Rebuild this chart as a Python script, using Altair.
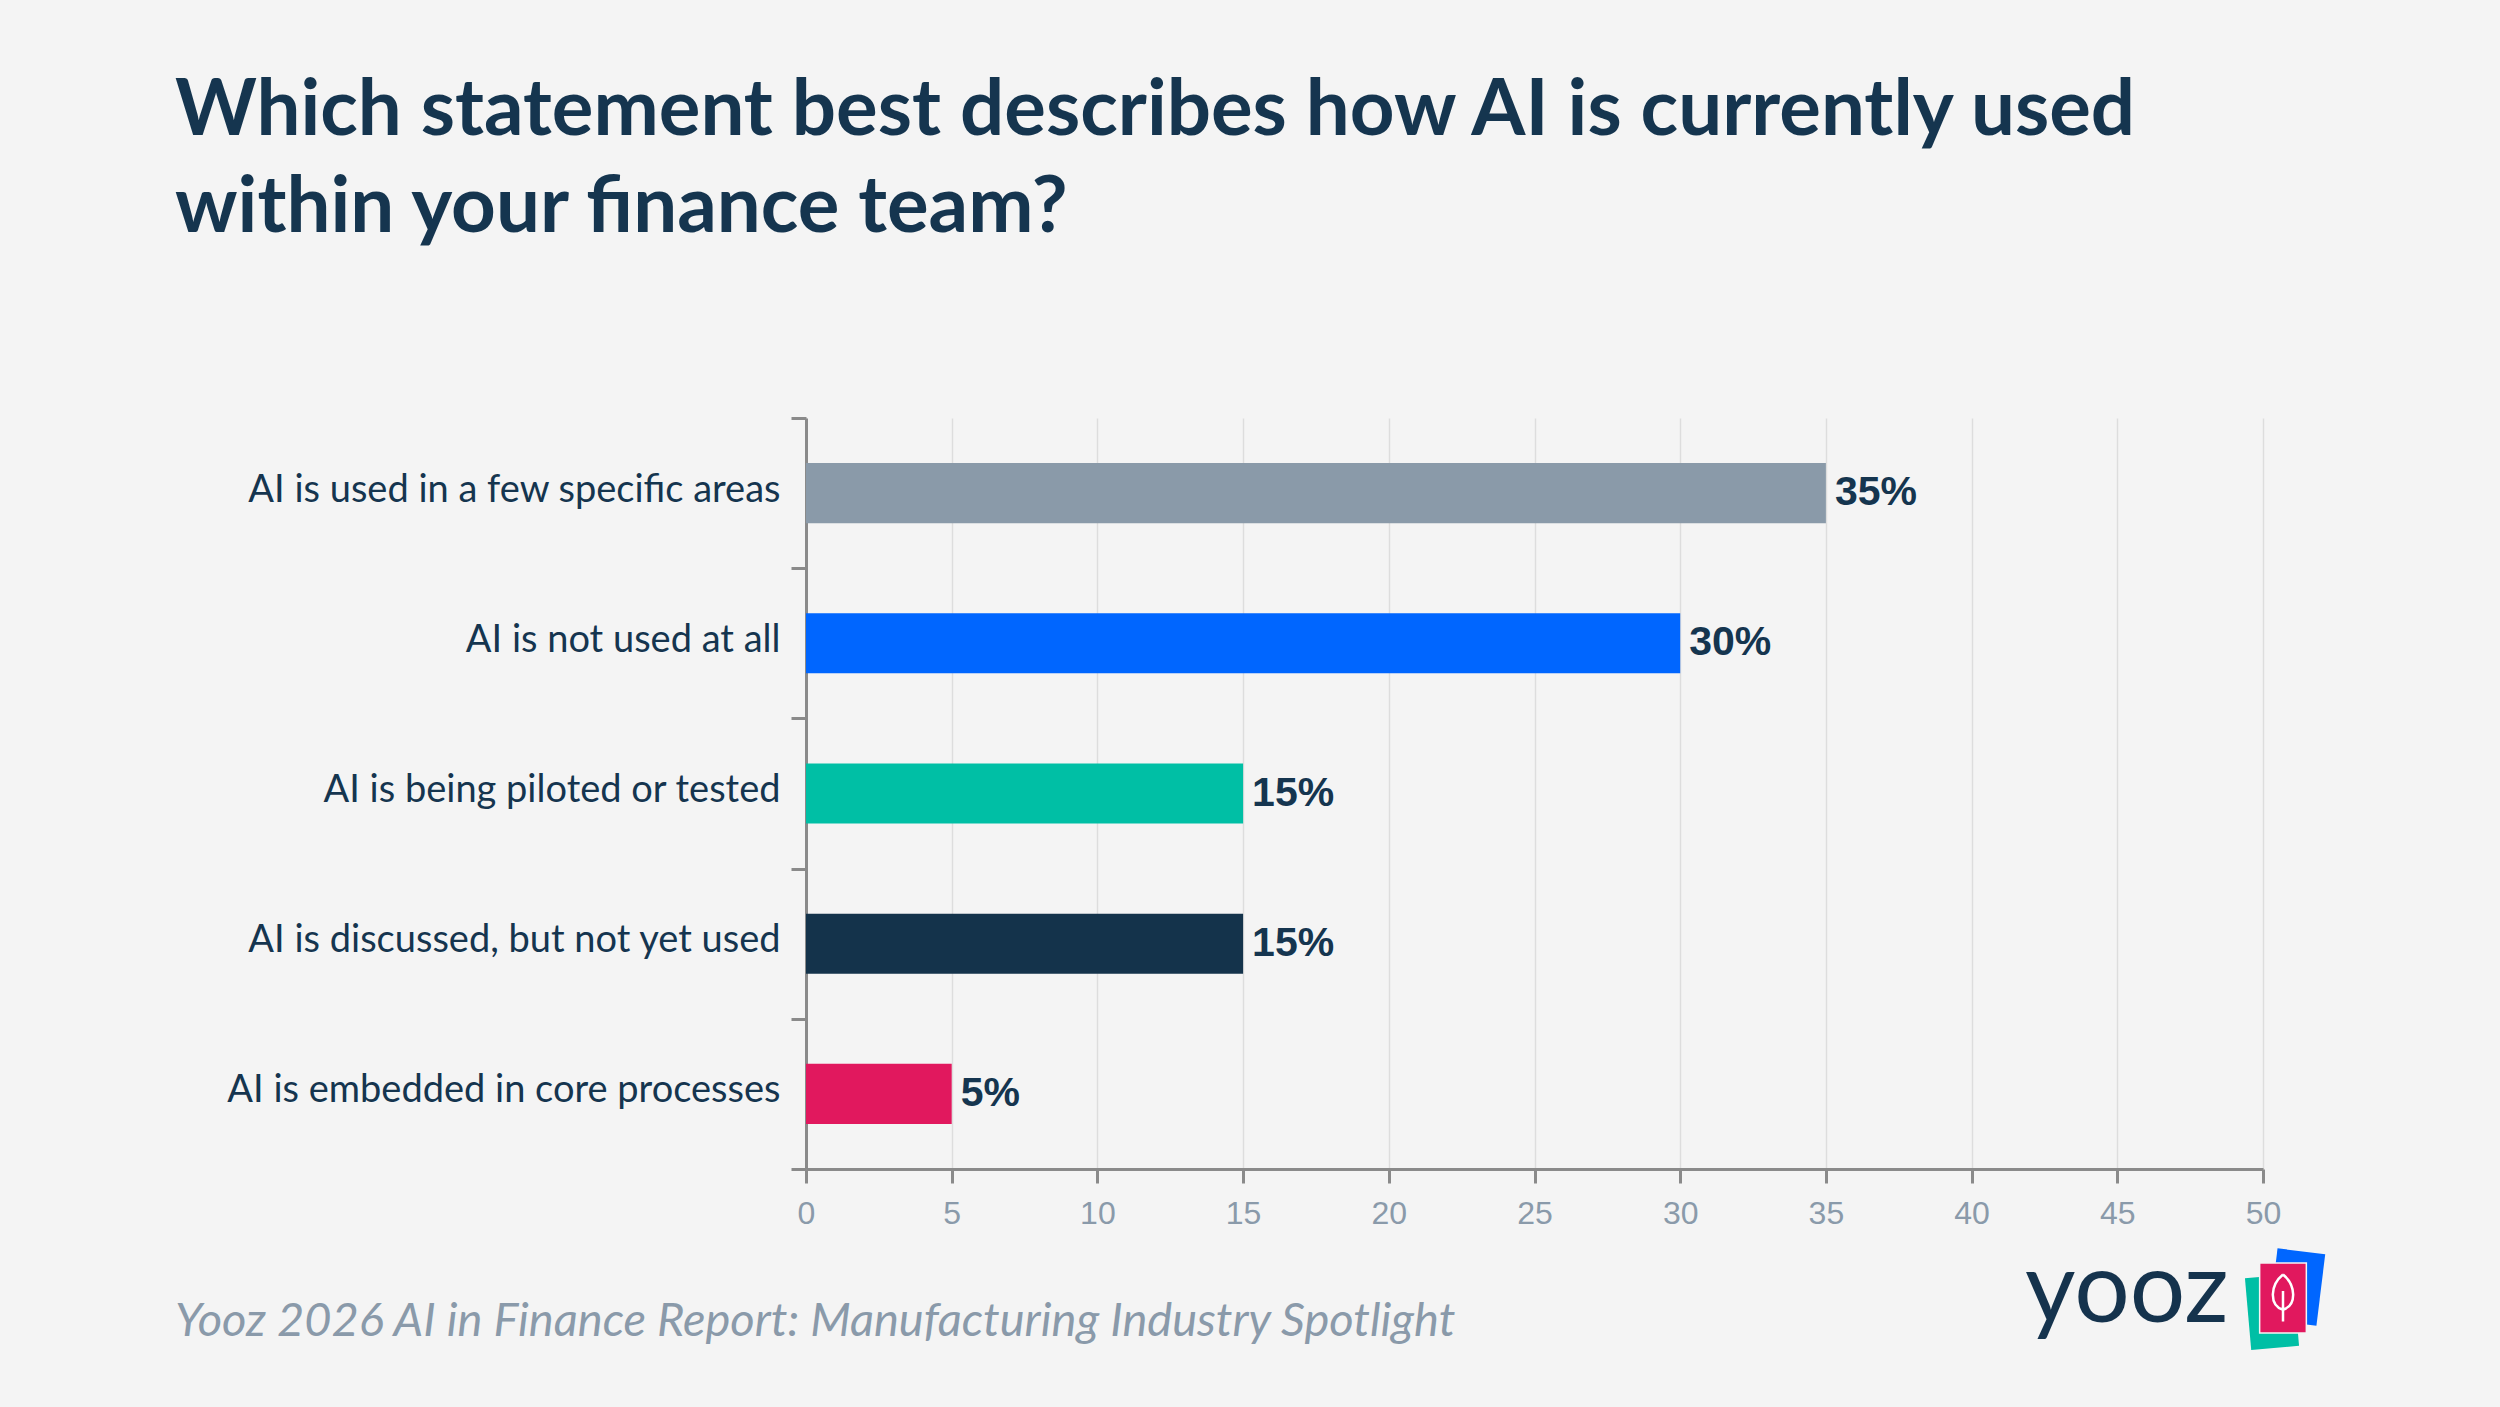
import altair as alt
import pandas as pd

# ---- data ----
CATEGORIES = [
    "AI is used in a few specific areas",
    "AI is not used at all",
    "AI is being piloted or tested",
    "AI is discussed, but not yet used",
    "AI is embedded in core processes",
]
VALUES = [35, 30, 15, 15, 5]
COLORS = ["#8A9AA9", "#0066FF", "#00BFA5", "#14334B", "#E1185E"]
X_TICKS = [0, 5, 10, 15, 20, 25, 30, 35, 40, 45, 50]

TITLE_LINES = [
    "Which statement best describes how AI is currently used",
    "within your finance team?",
]
FOOTER = "Yooz 2026 AI in Finance Report: Manufacturing Industry Spotlight"
LOGO_TEXT = "yooz"

NAVY = "#15354F"
GREY_TXT = "#8A9AAA"
AXIS_GREY = "#8A8A8A"
BG = "#F4F4F4"

df = pd.DataFrame({"category": CATEGORIES, "value": VALUES})

W, H = 1457, 751
PAD = {"left": 806, "top": 418, "right": 2500 - 806 - W, "bottom": 1407 - 418 - H}

y_enc = alt.Y(
    "category:N",
    sort=CATEGORIES,
    scale=alt.Scale(paddingInner=0, paddingOuter=0),
    axis=alt.Axis(
        title=None,
        tickBand="extent",
        grid=False,
        ticks=True,
        tickSize=15,
        tickWidth=3,
        tickColor=AXIS_GREY,
        domainColor=AXIS_GREY,
        domainWidth=3,
        labelFont="Lato",
        labelFontSize=38,
        labelColor=NAVY,
        labelPadding=11,
        labelOffset=-3,
        labelLimit=0,
    ),
)

x_enc = alt.X(
    "value:Q",
    scale=alt.Scale(domain=[0, 50], nice=False),
    axis=alt.Axis(
        title=None,
        values=X_TICKS,
        grid=True,
        gridColor="#DDDDDD",
        gridWidth=1.5,
        tickSize=14,
        tickWidth=3,
        tickColor=AXIS_GREY,
        domainColor=AXIS_GREY,
        domainWidth=3,
        labelFont="Liberation Sans",
        labelFontSize=32,
        labelColor=GREY_TXT,
        labelPadding=15,
        labelFlush=False,
    ),
)

base = alt.Chart(df)

bars = base.mark_bar(height={"band": 0.4}).encode(
    y=y_enc,
    x=x_enc,
    color=alt.Color(
        "category:N",
        scale=alt.Scale(domain=CATEGORIES, range=COLORS),
        legend=None,
    ),
)

labels = base.transform_calculate(
    label="datum.value + '%'"
).mark_text(
    align="left",
    baseline="middle",
    dx=9,
    font="Liberation Sans",
    fontWeight="bold",
    fontSize=41,
    color=NAVY,
).encode(
    y=alt.Y("category:N", sort=CATEGORIES),
    x=alt.X("value:Q"),
    text="label:N",
)

one = alt.Data(values=[{"k": 1}])

title = alt.Chart(one).mark_text(
    align="left",
    baseline="alphabetic",
    font="Lato",
    fontWeight="bold",
    fontSize=78,
    lineHeight=97,
    color=NAVY,
).encode(x=alt.value(-631), y=alt.value(-283), text=alt.value(TITLE_LINES))

footer = alt.Chart(one).mark_text(
    align="left",
    baseline="alphabetic",
    font="Lato",
    fontStyle="italic",
    fontSize=47,
    color=GREY_TXT,
).encode(x=alt.value(-631), y=alt.value(918), text=alt.value(FOOTER))

logo_text = alt.Chart(one).mark_text(
    align="left",
    baseline="alphabetic",
    font="Lato",
    fontSize=98,
    color="#15334D",
).encode(x=alt.value(1219), y=alt.value(904), text=alt.value(LOGO_TEXT))

RECT_PATH = "M-0.667,-1 L0.667,-1 L0.667,1 L-0.667,1 Z"
LEAF_PATH = "M0,-1 C0.55,-0.55 0.6,0.3 0,0.5 C-0.6,0.3 -0.55,-0.55 0,-1 M0,-0.3 L0,1"

card_blue = alt.Chart(one).mark_point(
    shape=RECT_PATH, filled=True, size=5184, angle=7, color="#0066FF", opacity=1
).encode(x=alt.value(1491), y=alt.value(869))

card_teal = alt.Chart(one).mark_point(
    shape=RECT_PATH, filled=True, size=5184, angle=355, color="#00BFA5", opacity=1
).encode(x=alt.value(1466), y=alt.value(894))

card_pink = alt.Chart(one).mark_point(
    shape=RECT_PATH, filled=True, size=4900, color="#E1185E", opacity=1,
    stroke="#F4F4F4", strokeWidth=1.5,
).encode(x=alt.value(1477), y=alt.value(880))

leaf = alt.Chart(one).mark_point(
    shape=LEAF_PATH, filled=False, size=2209, stroke="white", strokeWidth=2.5, opacity=1
).encode(x=alt.value(1477), y=alt.value(880))

chart = alt.layer(
    bars, labels, title, footer, logo_text, card_blue, card_teal, card_pink, leaf
).properties(
    width=W,
    height=H,
    padding=PAD,
    autosize=alt.AutoSizeParams(type="none"),
    background=BG,
).configure_view(strokeWidth=0)

chart.save("out.html", embed_options={"renderer": "svg", "actions": False})
